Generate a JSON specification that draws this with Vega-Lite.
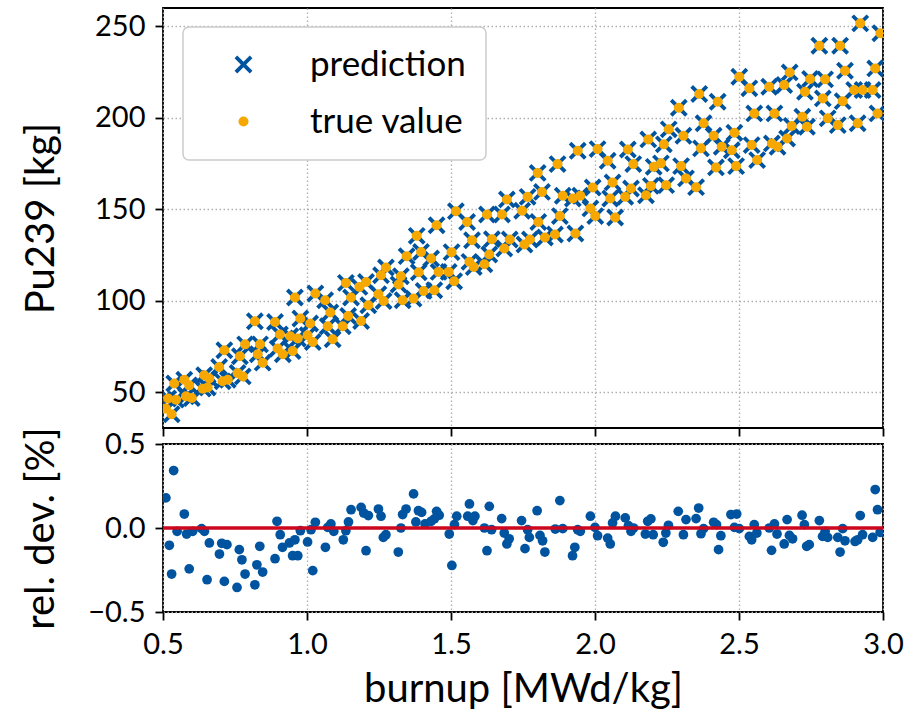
{
"$schema":"https://vega.github.io/schema/vega-lite/v6.json",
"background":"white",
"padding":{"left":20,"top":7,"right":10,"bottom":5},
"spacing":16,
"bounds":"flush",
"config":{
 "font":"Lato",
 "view":{"stroke":"black","strokeWidth":1.8},
 "axis":{"domain":false,"grid":true,"gridColor":"#b0b0b0","gridDash":[1.5,2.5],"gridWidth":1.3,"tickColor":"black","tickSize":8,"tickWidth":1.8,"labelFontSize":29,"labelColor":"black","titleFontSize":40,"titleFontWeight":"normal","titleColor":"black","labelFlush":false,"labelOverlap":false,"labelPadding":10,"titlePadding":10},
 "legend":{"padding":20,"fillColor":"white","strokeColor":"#cccccc","strokeWidth":1.5,"cornerRadius":6,"labelFontSize":35,"labelColor":"black","symbolOffset":23,"labelOffset":49,"rowPadding":21,"symbolStrokeWidth":0,"symbolOpacity":1}
},
"datasets":{
"pu":[
{"burnup":0.510,"true":41.1,"pred":41.1},{"burnup":0.530,"true":38.0,"pred":38.0},{"burnup":0.518,"true":46.6,"pred":46.6},{"burnup":0.545,"true":46.0,"pred":46.0},{"burnup":0.539,"true":54.8,"pred":54.8},{"burnup":0.574,"true":56.9,"pred":56.9},{"burnup":0.591,"true":53.8,"pred":53.8},{"burnup":0.580,"true":47.8,"pred":47.8},{"burnup":0.600,"true":46.9,"pred":46.9},{"burnup":0.643,"true":59.3,"pred":59.3},{"burnup":0.661,"true":57.5,"pred":57.5},{"burnup":0.638,"true":52.0,"pred":52.0},{"burnup":0.655,"true":52.6,"pred":52.6},{"burnup":0.695,"true":63.8,"pred":63.8},{"burnup":0.707,"true":56.0,"pred":56.0},{"burnup":0.725,"true":56.9,"pred":56.9},{"burnup":0.713,"true":73.0,"pred":73.0},{"burnup":0.759,"true":60.6,"pred":60.6},{"burnup":0.777,"true":58.7,"pred":58.7},{"burnup":0.767,"true":69.7,"pred":69.7},{"burnup":0.785,"true":76.2,"pred":76.2},{"burnup":0.819,"true":88.8,"pred":88.8},{"burnup":0.837,"true":76.2,"pred":76.2},{"burnup":0.829,"true":70.8,"pred":70.8},{"burnup":0.846,"true":66.2,"pred":66.2},{"burnup":0.889,"true":88.4,"pred":88.4},{"burnup":0.898,"true":73.9,"pred":73.9},{"burnup":0.916,"true":70.8,"pred":70.8},{"burnup":0.906,"true":81.6,"pred":81.6},{"burnup":0.942,"true":80.6,"pred":80.6},{"burnup":0.968,"true":79.4,"pred":79.4},{"burnup":0.950,"true":72.6,"pred":72.6},{"burnup":0.977,"true":90.3,"pred":90.3},{"burnup":0.958,"true":101.8,"pred":101.8},{"burnup":1.002,"true":81.2,"pred":81.2},{"burnup":1.020,"true":77.5,"pred":77.5},{"burnup":1.011,"true":87.6,"pred":87.6},{"burnup":1.029,"true":104.0,"pred":104.0},{"burnup":1.063,"true":100.3,"pred":100.3},{"burnup":1.081,"true":93.6,"pred":93.6},{"burnup":1.072,"true":86.1,"pred":86.1},{"burnup":1.089,"true":79.0,"pred":79.0},{"burnup":1.135,"true":109.8,"pred":109.8},{"burnup":1.153,"true":101.8,"pred":101.8},{"burnup":1.143,"true":91.7,"pred":91.7},{"burnup":1.124,"true":86.1,"pred":86.1},{"burnup":1.188,"true":89.0,"pred":89.0},{"burnup":1.182,"true":107.6,"pred":107.6},
{"burnup":1.801,"true":169.9,"pred":169.9},{"burnup":1.694,"true":155.4,"pred":155.4},{"burnup":1.766,"true":156.8,"pred":156.8},{"burnup":1.747,"true":149.2,"pred":149.2},{"burnup":1.803,"true":143.1,"pred":143.1},{"burnup":1.517,"true":149.0,"pred":149.0},{"burnup":1.556,"true":143.1,"pred":143.1},{"burnup":1.625,"true":147.2,"pred":147.2},{"burnup":1.677,"true":147.2,"pred":147.2},{"burnup":1.450,"true":141.3,"pred":141.3},{"burnup":1.381,"true":135.5,"pred":135.5},{"burnup":1.573,"true":133.1,"pred":133.1},{"burnup":1.642,"true":133.7,"pred":133.7},{"burnup":1.704,"true":133.5,"pred":133.5},{"burnup":1.685,"true":128.6,"pred":128.6},{"burnup":1.755,"true":130.8,"pred":130.8},{"burnup":1.774,"true":133.5,"pred":133.5},{"burnup":1.396,"true":126.7,"pred":126.7},{"burnup":1.346,"true":124.4,"pred":124.4},{"burnup":1.431,"true":123.1,"pred":123.1},{"burnup":1.502,"true":126.6,"pred":126.6},{"burnup":1.633,"true":125.3,"pred":125.3},{"burnup":1.564,"true":121.3,"pred":121.3},{"burnup":1.579,"true":118.5,"pred":118.5},{"burnup":1.616,"true":120.0,"pred":120.0},{"burnup":1.274,"true":118.2,"pred":118.2},{"burnup":1.326,"true":113.4,"pred":113.4},{"burnup":1.388,"true":115.6,"pred":115.6},{"burnup":1.457,"true":115.8,"pred":115.8},{"burnup":1.492,"true":115.8,"pred":115.8},{"burnup":1.511,"true":110.7,"pred":110.7},{"burnup":1.205,"true":110.3,"pred":110.3},{"burnup":1.257,"true":114.0,"pred":114.0},{"burnup":1.318,"true":108.9,"pred":108.9},{"burnup":1.248,"true":103.6,"pred":103.6},{"burnup":1.266,"true":99.9,"pred":99.9},{"burnup":1.332,"true":100.3,"pred":100.3},{"burnup":1.370,"true":101.2,"pred":101.2},{"burnup":1.405,"true":105.4,"pred":105.4},{"burnup":1.442,"true":105.8,"pred":105.8},{"burnup":1.213,"true":97.6,"pred":97.6},
{"burnup":2.362,"true":213.0,"pred":213.0},{"burnup":2.426,"true":208.8,"pred":208.8},{"burnup":2.291,"true":205.5,"pred":205.5},{"burnup":2.377,"true":197.0,"pred":197.0},{"burnup":2.256,"true":193.7,"pred":193.7},{"burnup":2.307,"true":190.2,"pred":190.2},{"burnup":2.412,"true":190.2,"pred":190.2},{"burnup":2.185,"true":188.2,"pred":188.2},{"burnup":2.239,"true":185.5,"pred":185.5},{"burnup":2.368,"true":183.3,"pred":183.3},{"burnup":1.940,"true":182.0,"pred":182.0},{"burnup":2.009,"true":182.9,"pred":182.9},{"burnup":2.114,"true":182.7,"pred":182.7},{"burnup":1.870,"true":174.7,"pred":174.7},{"burnup":2.044,"true":176.5,"pred":176.5},{"burnup":2.133,"true":174.7,"pred":174.7},{"burnup":2.204,"true":173.2,"pred":173.2},{"burnup":2.229,"true":175.1,"pred":175.1},{"burnup":2.299,"true":173.6,"pred":173.6},{"burnup":2.420,"true":172.9,"pred":172.9},{"burnup":2.316,"true":166.9,"pred":166.9},{"burnup":2.351,"true":162.1,"pred":162.1},{"burnup":2.061,"true":164.7,"pred":164.7},{"burnup":1.992,"true":161.9,"pred":161.9},{"burnup":2.125,"true":161.4,"pred":161.4},{"burnup":2.194,"true":162.8,"pred":162.8},{"burnup":2.247,"true":163.2,"pred":163.2},{"burnup":1.816,"true":159.5,"pred":159.5},{"burnup":1.888,"true":157.4,"pred":157.4},{"burnup":1.923,"true":155.9,"pred":155.9},{"burnup":1.949,"true":157.4,"pred":157.4},{"burnup":2.053,"true":155.9,"pred":155.9},{"burnup":2.105,"true":156.8,"pred":156.8},{"burnup":2.177,"true":157.7,"pred":157.7},{"burnup":1.878,"true":146.3,"pred":146.3},{"burnup":1.984,"true":150.5,"pred":150.5},{"burnup":2.001,"true":146.3,"pred":146.3},{"burnup":2.070,"true":145.5,"pred":145.5},{"burnup":1.861,"true":136.2,"pred":136.2},{"burnup":1.932,"true":136.8,"pred":136.8},{"burnup":1.826,"true":134.6,"pred":134.6},
{"burnup":2.921,"true":251.6,"pred":251.6},{"burnup":2.991,"true":246.2,"pred":246.2},{"burnup":2.779,"true":239.4,"pred":239.4},{"burnup":2.851,"true":239.4,"pred":239.4},{"burnup":2.973,"true":227.0,"pred":227.0},{"burnup":2.868,"true":225.7,"pred":225.7},{"burnup":2.676,"true":224.8,"pred":224.8},{"burnup":2.501,"true":222.4,"pred":222.4},{"burnup":2.747,"true":221.2,"pred":221.2},{"burnup":2.799,"true":221.0,"pred":221.0},{"burnup":2.657,"true":217.9,"pred":217.9},{"burnup":2.605,"true":217.0,"pred":217.0},{"burnup":2.536,"true":216.1,"pred":216.1},{"burnup":2.900,"true":215.2,"pred":215.2},{"burnup":2.929,"true":215.2,"pred":215.2},{"burnup":2.964,"true":215.2,"pred":215.2},{"burnup":2.729,"true":214.2,"pred":214.2},{"burnup":2.791,"true":210.6,"pred":210.6},{"burnup":2.860,"true":209.1,"pred":209.1},{"burnup":2.553,"true":202.4,"pred":202.4},{"burnup":2.623,"true":202.4,"pred":202.4},{"burnup":2.981,"true":202.4,"pred":202.4},{"burnup":2.720,"true":200.6,"pred":200.6},{"burnup":2.808,"true":199.7,"pred":199.7},{"burnup":2.683,"true":195.5,"pred":195.5},{"burnup":2.736,"true":195.1,"pred":195.1},{"burnup":2.843,"true":196.0,"pred":196.0},{"burnup":2.912,"true":197.0,"pred":197.0},{"burnup":2.484,"true":191.8,"pred":191.8},{"burnup":2.667,"true":188.7,"pred":188.7},{"burnup":2.544,"true":185.1,"pred":185.1},{"burnup":2.614,"true":186.0,"pred":186.0},{"burnup":2.634,"true":184.2,"pred":184.2},{"burnup":2.440,"true":184.2,"pred":184.2},{"burnup":2.475,"true":182.3,"pred":182.3},{"burnup":2.490,"true":173.6,"pred":173.6},{"burnup":2.563,"true":176.9,"pred":176.9}
],
"dev":[
{"burnup":0.510,"dev":0.179},{"burnup":0.537,"dev":0.342},{"burnup":0.522,"dev":-0.103},{"burnup":0.530,"dev":-0.274},{"burnup":0.549,"dev":-0.020},{"burnup":0.574,"dev":0.083},{"burnup":0.582,"dev":-0.036},{"burnup":0.591,"dev":-0.243},{"burnup":0.603,"dev":-0.020},{"burnup":0.634,"dev":-0.004},{"burnup":0.644,"dev":-0.020},{"burnup":0.653,"dev":-0.308},{"burnup":0.661,"dev":-0.089},{"burnup":0.696,"dev":-0.155},{"burnup":0.704,"dev":-0.091},{"burnup":0.722,"dev":-0.099},{"burnup":0.713,"dev":-0.318},{"burnup":0.757,"dev":-0.354},{"burnup":0.765,"dev":-0.129},{"burnup":0.774,"dev":-0.189},{"burnup":0.785,"dev":-0.274},{"burnup":0.826,"dev":-0.219},{"burnup":0.819,"dev":-0.338},{"burnup":0.836,"dev":-0.109},{"burnup":0.846,"dev":-0.262},{"burnup":0.889,"dev":-0.183},{"burnup":0.896,"dev":0.040},{"burnup":0.907,"dev":-0.040},{"burnup":0.915,"dev":-0.115},{"burnup":0.939,"dev":-0.089},{"burnup":0.958,"dev":-0.070},{"burnup":0.950,"dev":-0.165},{"burnup":0.968,"dev":-0.165},{"burnup":0.977,"dev":-0.016},{"burnup":1.002,"dev":-0.083},{"burnup":1.014,"dev":-0.010},{"burnup":1.020,"dev":-0.254},{"burnup":1.029,"dev":0.034},{"burnup":1.064,"dev":-0.115},{"burnup":1.072,"dev":0.004},{"burnup":1.083,"dev":0.024},{"burnup":1.093,"dev":-0.020},{"burnup":1.126,"dev":-0.070},{"burnup":1.135,"dev":-0.016},{"burnup":1.144,"dev":0.036},{"burnup":1.153,"dev":0.109},{"burnup":1.188,"dev":0.123},{"burnup":1.197,"dev":0.089},{"burnup":1.205,"dev":-0.135},{"burnup":1.213,"dev":0.074},{"burnup":1.248,"dev":0.113},{"burnup":1.257,"dev":0.070},{"burnup":1.265,"dev":-0.056},{"burnup":1.274,"dev":-0.040},{"burnup":1.317,"dev":-0.143},{"burnup":1.326,"dev":0.000},{"burnup":1.332,"dev":0.080},{"burnup":1.344,"dev":0.113},{"burnup":1.370,"dev":0.203},{"burnup":1.378,"dev":0.036},{"burnup":1.387,"dev":0.103},{"burnup":1.398,"dev":0.093},{"burnup":1.410,"dev":0.024},{"burnup":1.431,"dev":0.040},{"burnup":1.442,"dev":0.054},{"burnup":1.450,"dev":0.099},{"burnup":1.459,"dev":0.076},{"burnup":1.494,"dev":-0.036},{"burnup":1.503,"dev":-0.223},{"burnup":1.512,"dev":0.020},{"burnup":1.520,"dev":0.070},{"burnup":1.558,"dev":0.070},{"burnup":1.564,"dev":0.143},{"burnup":1.576,"dev":0.044},{"burnup":1.583,"dev":0.070},{"burnup":1.616,"dev":0.000},{"burnup":1.625,"dev":-0.135},{"burnup":1.633,"dev":0.129},{"burnup":1.641,"dev":-0.010},{"burnup":1.676,"dev":0.056},{"burnup":1.685,"dev":-0.030},{"burnup":1.694,"dev":-0.095},{"burnup":1.702,"dev":-0.064},{"burnup":1.745,"dev":0.044},{"burnup":1.757,"dev":-0.123},{"burnup":1.766,"dev":-0.010},{"burnup":1.772,"dev":-0.056},
{"burnup":1.799,"dev":0.103},{"burnup":1.809,"dev":-0.044},{"burnup":1.818,"dev":-0.076},{"burnup":1.826,"dev":-0.143},{"burnup":1.862,"dev":-0.006},{"burnup":1.878,"dev":0.163},{"burnup":1.888,"dev":-0.004},{"burnup":1.922,"dev":-0.165},{"burnup":1.930,"dev":-0.115},{"burnup":1.940,"dev":-0.010},{"burnup":1.949,"dev":-0.020},{"burnup":1.984,"dev":0.070},{"burnup":2.000,"dev":0.004},{"burnup":2.009,"dev":-0.046},{"burnup":2.044,"dev":-0.060},{"burnup":2.053,"dev":-0.095},{"burnup":2.061,"dev":0.030},{"burnup":2.071,"dev":0.070},{"burnup":2.105,"dev":0.060},{"burnup":2.116,"dev":0.014},{"burnup":2.125,"dev":-0.020},{"burnup":2.134,"dev":0.000},{"burnup":2.175,"dev":-0.036},{"burnup":2.183,"dev":0.040},{"burnup":2.194,"dev":0.054},{"burnup":2.202,"dev":-0.040},{"burnup":2.237,"dev":-0.085},{"burnup":2.246,"dev":-0.030},{"burnup":2.255,"dev":0.016},{"burnup":2.289,"dev":0.099},{"burnup":2.307,"dev":-0.040},{"burnup":2.316,"dev":0.050},{"burnup":2.351,"dev":0.056},{"burnup":2.360,"dev":0.119},{"burnup":2.368,"dev":-0.034},{"burnup":2.377,"dev":-0.004},{"burnup":2.412,"dev":0.034},{"burnup":2.422,"dev":0.020},{"burnup":2.429,"dev":-0.129},{"burnup":2.437,"dev":-0.046},{"burnup":2.472,"dev":0.080},{"burnup":2.484,"dev":0.004},{"burnup":2.492,"dev":0.083},{"burnup":2.501,"dev":-0.004},{"burnup":2.536,"dev":-0.050},{"burnup":2.544,"dev":-0.070},{"burnup":2.553,"dev":0.020},{"burnup":2.562,"dev":-0.030},{"burnup":2.605,"dev":0.000},{"burnup":2.613,"dev":-0.133},{"burnup":2.623,"dev":0.024},{"burnup":2.632,"dev":-0.036},{"burnup":2.657,"dev":-0.095},{"burnup":2.667,"dev":0.050},{"burnup":2.675,"dev":-0.044},{"burnup":2.686,"dev":-0.064},{"burnup":2.719,"dev":0.076},{"burnup":2.727,"dev":0.020},{"burnup":2.735,"dev":-0.109},{"burnup":2.744,"dev":-0.099},{"burnup":2.779,"dev":0.044},{"burnup":2.790,"dev":-0.050},{"burnup":2.799,"dev":-0.020},{"burnup":2.808,"dev":-0.056},{"burnup":2.843,"dev":-0.056},{"burnup":2.851,"dev":-0.143},{"burnup":2.860,"dev":-0.004},{"burnup":2.868,"dev":-0.076},{"burnup":2.903,"dev":-0.080},{"burnup":2.912,"dev":-0.070},{"burnup":2.921,"dev":0.074},{"burnup":2.929,"dev":-0.040},{"burnup":2.964,"dev":-0.056},{"burnup":2.973,"dev":0.229},{"burnup":2.981,"dev":0.109},{"burnup":2.990,"dev":-0.026}
]
},
"vconcat":[
{
 "width":720,"height":420,
 "data":{"name":"pu"},
 "encoding":{"x":{"field":"burnup","type":"quantitative","scale":{"domain":[0.5,3.0],"nice":false,"zero":false},"axis":{"values":[0.5,1,1.5,2,2.5,3],"labels":false,"title":null}}},
 "layer":[
  {"mark":{"type":"point","filled":true,"clip":true,"opacity":1,"strokeWidth":0},
   "encoding":{
    "y":{"field":"pred","type":"quantitative","scale":{"domain":[30.5,260],"nice":false,"zero":false},"axis":{"values":[50,100,150,200,250],"title":"Pu239 [kg]","titleX":-102}},
    "color":{"datum":"prediction","type":"nominal","scale":{"domain":["prediction","true value"],"range":["#00549F","#F6A800"]},"legend":{"orient":"none","legendX":20,"legendY":19,"title":null}},
    "shape":{"datum":"prediction","type":"nominal","scale":{"domain":["prediction","true value"],"range":["M0,-0.3L0.7,-1L1,-0.7L0.3,0L1,0.7L0.7,1L0,0.3L-0.7,1L-1,0.7L-0.3,0L-1,-0.7L-0.7,-1Z","circle"]},"legend":{"orient":"none","legendX":20,"legendY":19,"title":null}},
    "size":{"datum":"prediction","type":"nominal","scale":{"domain":["prediction","true value"],"range":[320,100]},"legend":{"orient":"none","legendX":20,"legendY":19,"title":null}}
   }},
  {"mark":{"type":"point","filled":true,"clip":true,"opacity":1,"strokeWidth":0},
   "encoding":{
    "y":{"field":"true","type":"quantitative","scale":{"domain":[30.5,260],"nice":false,"zero":false},"axis":{"values":[50,100,150,200,250],"title":"Pu239 [kg]","titleX":-102}},
    "color":{"datum":"true value","type":"nominal"},
    "shape":{"datum":"true value","type":"nominal"},
    "size":{"datum":"true value","type":"nominal"}
   }}
 ]
},
{
 "width":720,"height":168,
 "layer":[
  {"data":{"name":"dev"},
   "mark":{"type":"circle","color":"#00549F","size":95,"opacity":1,"clip":true},
   "encoding":{
    "x":{"field":"burnup","type":"quantitative","scale":{"domain":[0.5,3.0],"nice":false,"zero":false},"axis":{"values":[0.5,1,1.5,2,2.5,3],"format":".1f","title":"burnup [MWd/kg]"}},
    "y":{"field":"dev","type":"quantitative","scale":{"domain":[-0.5,0.5],"nice":false,"zero":false},"axis":{"values":[-0.5,0,0.5],"format":".1f","title":"rel. dev. [%]","titleX":-102}}
   }},
  {"data":{"values":[{}]},
   "mark":{"type":"rule","color":"#CC071E","strokeWidth":3.3},
   "encoding":{"y":{"datum":0}}}
 ]
}
]
}
